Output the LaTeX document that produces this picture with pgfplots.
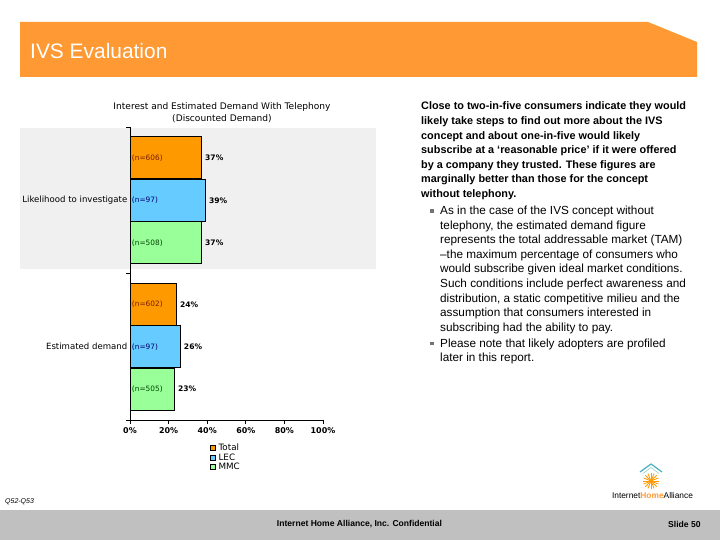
\documentclass[border=0pt]{standalone}
\usepackage{pgfplots}
\pgfplotsset{compat=1.18}
\usepackage{fontspec}
\setmainfont{Liberation Sans}
\newfontfamily\chartfont{DejaVu Sans}

\definecolor{ihaorange}{RGB}{255,153,51}
\definecolor{barorange}{RGB}{255,153,0}
\definecolor{barblue}{RGB}{102,204,255}
\definecolor{bargreen}{RGB}{153,255,153}
\definecolor{plotgray}{RGB}{240,240,240}
\definecolor{footgray}{RGB}{192,192,192}
\definecolor{roofteal}{RGB}{70,175,190}
\definecolor{ntotal}{RGB}{120,30,0}
\definecolor{nlec}{RGB}{0,0,110}
\definecolor{nmmc}{RGB}{0,70,0}

\newcommand\fs[1]{\fontsize{#1}{#1}\selectfont}

\pgfplotsset{
  sqlegend/.style={legend image code/.code={%
    \draw[##1, line width=0.5bp] (0bp,-2.6bp) rectangle (5.2bp,2.6bp);}},
  nlabel/.style={forget plot, draw=none, mark=*, mark size=0pt,
    point meta=explicit symbolic, nodes near coords,
    nodes near coords align=horizontal,
    every node near coord/.append style={anchor=west, inner sep=0.8bp,
      font=\chartfont\fs{7.4}, text=#1}},
  pctbar/.style={xbar, bar width=42bp, bar shift=0pt, fill=#1, draw=black,
    line width=0.8bp, sqlegend, point meta=x,
    nodes near coords={\pgfmathprintnumber{\pgfplotspointmeta}\%},
    nodes near coords align=horizontal,
    every node near coord/.append style={font=\chartfont\bfseries\fs{7.6}, text=black, inner sep=3.4bp}},
}

\begin{document}
\begin{tikzpicture}
\begin{scope}[x=1bp,y=-1bp]
  \path[use as bounding box] (0,0) rectangle (720,540);
  % title bar
  \fill[ihaorange] (20,22) -- (648,22) -- (697,42) -- (697,77) -- (20,77) -- cycle;
  \node[anchor=base west, inner sep=0, text=white, font=\fs{21}] at (30,58.5) {IVS Evaluation};
  % plot area band
  \fill[plotgray] (20,128) rectangle (376,269);
  % chart title
  \node[anchor=base, inner sep=0, font=\chartfont\fs{9.1}] at (222,109.5) {Interest and Estimated Demand With Telephony};
  \node[anchor=base, inner sep=0, font=\chartfont\fs{9.1}] at (222,121.5) {(Discounted Demand)};
\end{scope}

\begin{axis}[
  at={(130bp,-420bp)}, anchor=south west,
  scale only axis, width=193bp, height=293bp,
  xmin=0, xmax=100, ymin=0.5, ymax=2.5,
  clip=false,
  axis x line*=bottom, axis y line*=left,
  axis line style={-, black, line width=0.8bp},
  xtick={0,20,...,100},
  /pgf/number format/assume math mode=true,
  xticklabel={\pgfmathprintnumber{\tick}\%},
  xticklabel style={font=\chartfont\bfseries\fs{8}},
  ytick={0.5,1.5,2.5}, yticklabels={},
  extra y ticks={1,2},
  extra y tick labels={Estimated demand,Likelihood to investigate},
  extra y tick style={major tick length=0pt, yticklabel style={font=\chartfont\fs{8.6}, inner sep=2.5bp}},
  tick align=outside, major tick length=4bp,
  tick style={black, line width=0.8bp},
  legend style={at={(0.415,-0.078)}, anchor=north west, draw=none, fill=none,
    font=\chartfont\fs{8.8}, inner sep=0pt, row sep=0pt, column sep=1.5bp,
    nodes={inner sep=1.1bp, text height=6.3bp, text depth=1.1bp}},
  legend cell align=left,
]
  \addplot[pctbar=barorange] coordinates {(37,2.29) (24,1.29)};
  \addplot[pctbar=barblue]   coordinates {(39,2.0)  (26,1.0)};
  \addplot[pctbar=bargreen]  coordinates {(37,1.71) (23,0.71)};
  \addplot[nlabel=ntotal]
    coordinates {(0.5,2.29) [{(n=606)}] (0.5,1.29) [{(n=602)}]};
  \addplot[nlabel=nlec]
    coordinates {(0.5,2.0) [{(n=97)}] (0.5,1.0) [{(n=97)}]};
  \addplot[nlabel=nmmc]
    coordinates {(0.5,1.71) [{(n=508)}] (0.5,0.71) [{(n=505)}]};
  \legend{Total,LEC,MMC}
\end{axis}

\begin{scope}[x=1bp,y=-1bp]
  % right column: bold summary
  \foreach \t [count=\i from 0] in {
    {Close to two-in-five consumers indicate they would},
    {likely take steps to find out more about the IVS},
    {concept and about one-in-five would likely},
    {subscribe at a `reasonable price' if it were offered},
    {by a company they trusted. These figures are},
    {marginally better than those for the concept},
    {without telephony.}}
    \node[anchor=base west, inner sep=0, font=\bfseries\fs{10.9}] at (421,110+14.55*\i) {\t};
  % bullets
  \fill[black!55] (430,209.5) rectangle (433.5,213);
  \foreach \t [count=\i from 0] in {
    {As in the case of the IVS concept without},
    {telephony, the estimated demand figure},
    {represents the total addressable market (TAM)},
    {--the maximum percentage of consumers who},
    {would subscribe given ideal market conditions.},
    {Such conditions include perfect awareness and},
    {distribution, a static competitive milieu and the},
    {assumption that consumers interested in},
    {subscribing had the ability to pay.}}
    \node[anchor=base west, inner sep=0, font=\fs{11.8}] at (440,215+14.5*\i) {\t};
  \fill[black!55] (430,341.5) rectangle (433.5,345);
  \foreach \t [count=\i from 0] in {
    {Please note that likely adopters are profiled},
    {later in this report.}}
    \node[anchor=base west, inner sep=0, font=\fs{11.8}] at (440,347+14.5*\i) {\t};
  % source note
  \node[anchor=base west, inner sep=0, font=\itshape\fs{7}] at (5,503) {Q52-Q53};
  % logo
  \draw[roofteal, line width=1.2bp] (640,472) -- (651,464) -- (662,472);
  \draw[roofteal!60, line width=0.6bp] (643,473.5) -- (651,467.5) -- (659,473.5);
  \foreach \a in {0,22.5,...,337.5}
    \draw[barorange, line width=0.8bp] (651,481) -- ++(\a:8);
  \node[anchor=base, inner sep=0, font=\fs{8.4}] at (652.5,498.5)
    {Internet{\color{ihaorange}\bfseries Home}Alliance};
  % footer
  \fill[footgray] (0,510) rectangle (720,540);
  \node[anchor=base, inner sep=0, font=\bfseries\fs{8.6}] at (359.5,526.5) {Internet Home Alliance, Inc. Confidential};
  \node[anchor=base west, inner sep=0, font=\bfseries\fs{8.6}] at (668,527) {Slide 50};
\end{scope}
\end{tikzpicture}
\end{document}
